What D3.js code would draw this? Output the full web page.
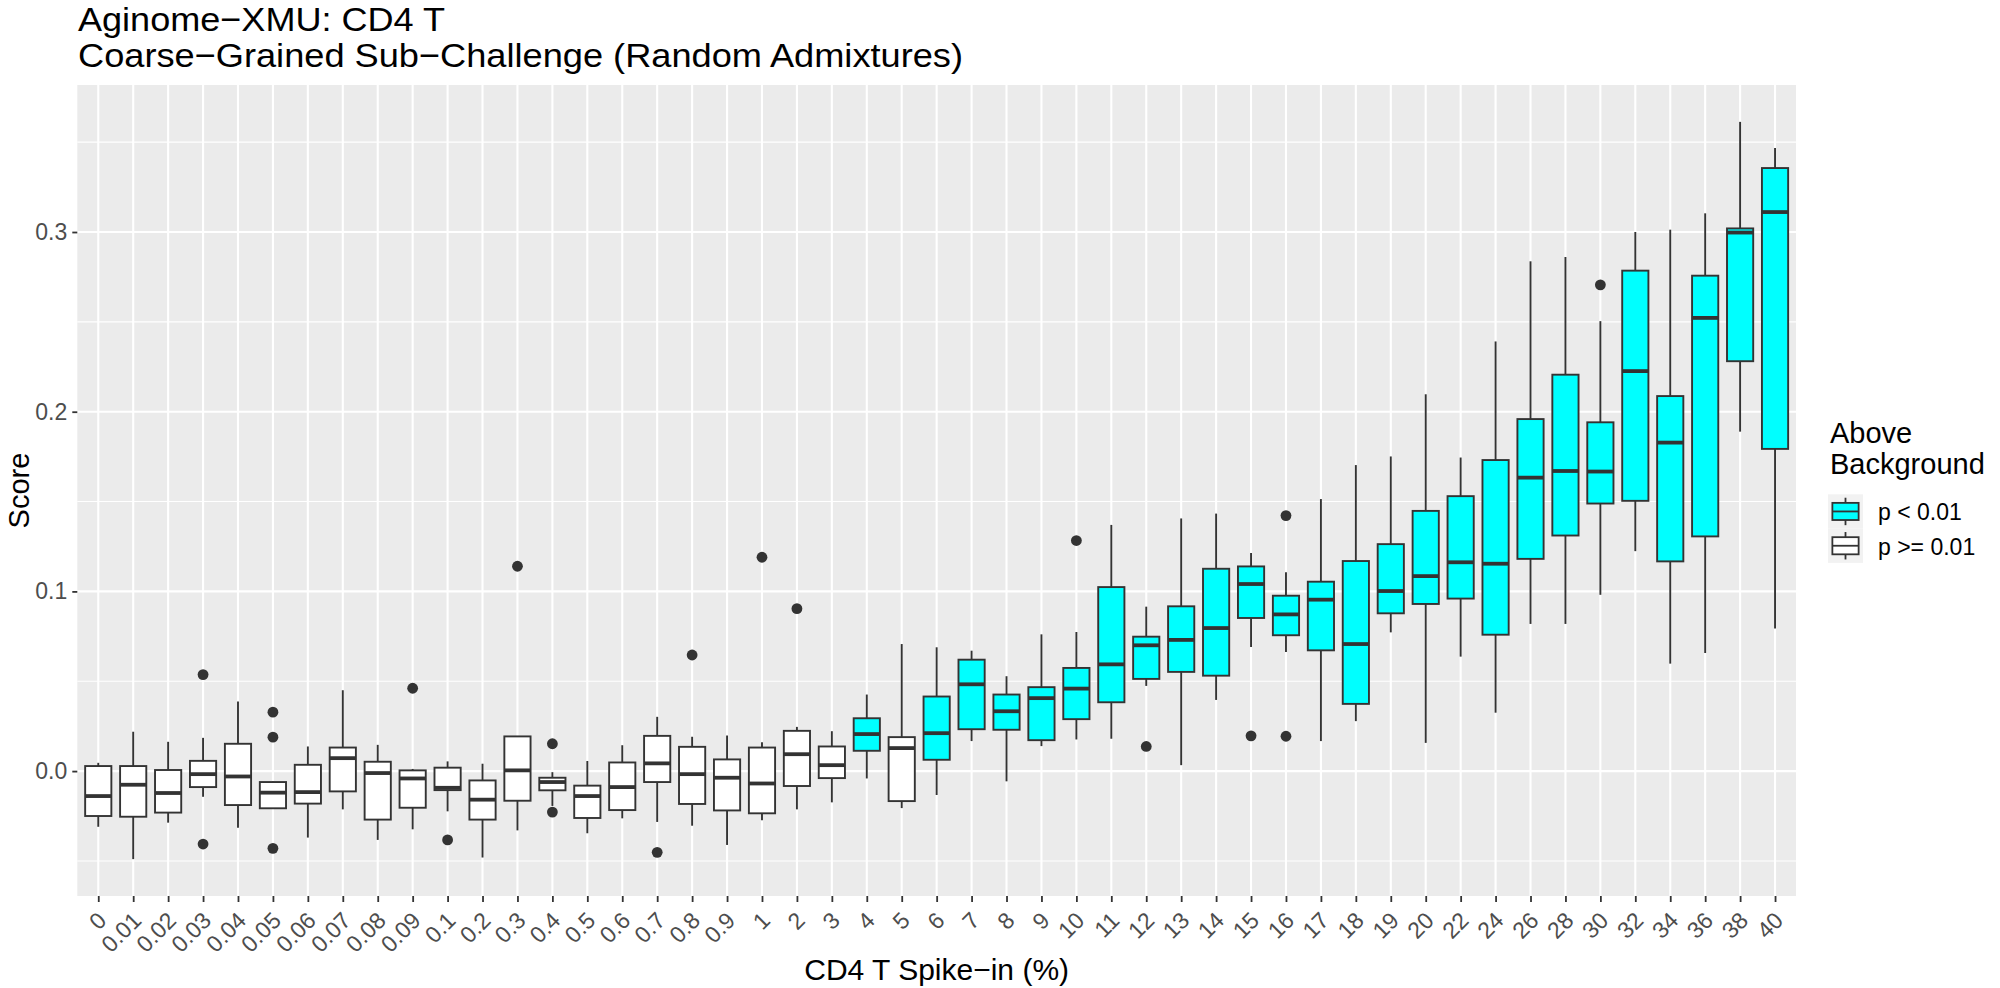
<!DOCTYPE html>
<html>
<head>
<meta charset="utf-8">
<script src="https://cdnjs.cloudflare.com/ajax/libs/d3/7.8.5/d3.min.js"></script>
<style>
  body { margin: 0; background: #fff; }
  svg text { font-family: "Liberation Sans", Arial, Helvetica, sans-serif; }
</style>
</head>
<body>
<svg id="chart" width="2000" height="988"></svg>
<script>
// spike-in levels (x categories)
var spikeIn = ["0","0.01","0.02","0.03","0.04","0.05","0.06","0.07","0.08","0.09",
  "0.1","0.2","0.3","0.4","0.5","0.6","0.7","0.8","0.9",
  "1","2","3","4","5","6","7","8","9","10","11","12","13","14","15","16","17","18","19","20",
  "22","24","26","28","30","32","34","36","38","40"];

// box stats
var whiskerLow = [-0.031,-0.049,-0.0287,-0.0143,-0.0315,-0.021,-0.037,-0.0213,-0.0383,-0.0324,
  -0.0224,-0.0481,-0.033,-0.0194,-0.0346,-0.0263,-0.0283,-0.0304,-0.0411,
  -0.0274,-0.0213,-0.0174,-0.0041,-0.0206,-0.0133,0.0167,-0.0057,0.0139,0.0176,0.018,0.0474,0.0033,0.0396,0.0691,0.0663,0.0167,0.0278,0.0772,0.0157,
  0.0637,0.0325,0.0819,0.0819,0.0981,0.1224,0.0598,0.0657,0.1889,0.0793];
var q1 = [-0.025,-0.0254,-0.0231,-0.0089,-0.0189,-0.0207,-0.0181,-0.0113,-0.027,-0.0204,
  -0.0106,-0.027,-0.0165,-0.0107,-0.0261,-0.0217,-0.0061,-0.0183,-0.0219,
  -0.0235,-0.0083,-0.0039,0.0113,-0.0167,0.0063,0.0233,0.023,0.0172,0.0289,0.0383,0.0513,0.0552,0.0531,0.0852,0.0756,0.0672,0.0374,0.0878,0.093,
  0.096,0.0759,0.1181,0.1311,0.1489,0.1504,0.1167,0.1306,0.2281,0.1793];
var median = [-0.0139,-0.0076,-0.0122,-0.0017,-0.003,-0.012,-0.0117,0.0072,-0.0011,-0.0041,
  -0.0093,-0.0159,0.0004,-0.0061,-0.0139,-0.0089,0.0043,-0.0017,-0.0037,
  -0.0069,0.0094,0.0033,0.0206,0.0128,0.0211,0.0483,0.0333,0.0406,0.0459,0.0594,0.07,0.073,0.0796,0.1041,0.0872,0.0954,0.0707,0.1002,0.1085,
  0.1162,0.1154,0.1633,0.167,0.1667,0.2226,0.1828,0.2522,0.2997,0.3111];
var q3 = [0.0028,0.0028,0.0006,0.0057,0.0152,-0.0061,0.0035,0.0131,0.0052,0.0004,
  0.0019,-0.0052,0.0193,-0.0037,-0.0081,0.0048,0.0196,0.0135,0.0065,
  0.0131,0.0224,0.0137,0.0294,0.0189,0.0415,0.062,0.0426,0.0467,0.0574,0.1024,0.0748,0.0917,0.1126,0.1139,0.0976,0.1054,0.1169,0.1263,0.1448,
  0.153,0.1731,0.1959,0.2206,0.1941,0.2785,0.2087,0.2757,0.302,0.3356];
var whiskerHigh = [0.0046,0.0219,0.0163,0.0185,0.0387,-0.0058,0.0137,0.045,0.0146,0.0012,
  0.0054,0.0041,0.0193,-0.0006,0.0056,0.0144,0.0302,0.0191,0.0198,
  0.0161,0.0246,0.0222,0.0426,0.0707,0.0689,0.067,0.0528,0.0761,0.0774,0.137,0.0915,0.1406,0.1433,0.1213,0.1107,0.1514,0.1703,0.1751,0.2097,
  0.1745,0.2391,0.2837,0.2861,0.2504,0.30,0.3013,0.3104,0.3613,0.3467];
var outliers = [[],[],[],[0.0537,-0.0406],[],[0.0328,0.0189,-0.043],[],[],[],[0.0461],
  [-0.0383],[],[0.114],[0.0152,-0.0228],[],[],[-0.0452],[0.0646],[],
  [0.119],[0.0904],[],[],[],[],[],[],[],[0.1283],[],[0.0137],[],[],[0.0196],[0.1422,0.0194],[],[],[],[],
  [],[],[],[],[0.2706],[],[],[],[],[]];
// 1 = above background (p < 0.01)
var aboveBg = [0,0,0,0,0,0,0,0,0,0,
  0,0,0,0,0,0,0,0,0,
  0,0,0,1,0,1,1,1,1,1,1,1,1,1,1,1,1,1,1,1,
  1,1,1,1,1,1,1,1,1,1];
var pGroups = ["p < 0.01", "p >= 0.01"];
var yTicks = [0, 0.1, 0.2, 0.3];

var svg = d3.select("#chart");
var pLeft = 77.3, pRight = 1796, pTop = 85, pBottom = 896;
var ink = "#333333";

var boxes = spikeIn.map(function(s, i) {
  return { cat: s, lo: whiskerLow[i], q1: q1[i], med: median[i], q3: q3[i], hi: whiskerHigh[i],
           out: outliers[i], group: aboveBg[i] ? pGroups[0] : pGroups[1] };
});

// y range like ggplot: data range + 5% each side
var allVals = [];
boxes.forEach(function(b) { allVals.push(b.lo, b.hi); b.out.forEach(function(o) { allVals.push(o); }); });
var ext = d3.extent(allVals);
var pad = (ext[1] - ext[0]) * 0.05;

var x = d3.scalePoint().domain(spikeIn).range([pLeft, pRight]).padding(0.6);
var y = d3.scaleLinear().domain([ext[0] - pad, ext[1] + pad]).range([pBottom, pTop]);
var fill = d3.scaleOrdinal().domain(pGroups).range(["#00FFFF", "#FFFFFF"]);
var bw = x.step() * 0.75;

// panel
svg.append("rect").attr("x", pLeft).attr("y", pTop).attr("width", pRight - pLeft).attr("height", pBottom - pTop)
  .attr("fill", "#EBEBEB");

var minor = [];
for (var v = -0.05; v < ext[1] + pad; v += 0.1) minor.push(+v.toFixed(2));
svg.append("g").selectAll("line").data(minor).enter().append("line")
  .attr("x1", pLeft).attr("x2", pRight).attr("y1", function(d) { return y(d); }).attr("y2", function(d) { return y(d); })
  .attr("stroke", "#fff").attr("stroke-width", 1.1);
svg.append("g").selectAll("line").data(yTicks).enter().append("line")
  .attr("x1", pLeft).attr("x2", pRight).attr("y1", function(d) { return y(d); }).attr("y2", function(d) { return y(d); })
  .attr("stroke", "#fff").attr("stroke-width", 2.1);
svg.append("g").selectAll("line").data(spikeIn).enter().append("line")
  .attr("x1", function(d) { return x(d); }).attr("x2", function(d) { return x(d); })
  .attr("y1", pTop).attr("y2", pBottom)
  .attr("stroke", "#fff").attr("stroke-width", 2.1);

// boxplots
var g = svg.append("g").selectAll("g").data(boxes).enter().append("g");
g.append("line").attr("x1", function(d) { return x(d.cat); }).attr("x2", function(d) { return x(d.cat); })
  .attr("y1", function(d) { return y(d.hi); }).attr("y2", function(d) { return y(d.q3); })
  .attr("stroke", ink).attr("stroke-width", 1.9);
g.append("line").attr("x1", function(d) { return x(d.cat); }).attr("x2", function(d) { return x(d.cat); })
  .attr("y1", function(d) { return y(d.q1); }).attr("y2", function(d) { return y(d.lo); })
  .attr("stroke", ink).attr("stroke-width", 1.9);
g.append("rect").attr("x", function(d) { return x(d.cat) - bw / 2; }).attr("width", bw)
  .attr("y", function(d) { return y(d.q3); })
  .attr("height", function(d) { return y(d.q1) - y(d.q3); })
  .attr("fill", function(d) { return fill(d.group); })
  .attr("stroke", ink).attr("stroke-width", 1.9);
g.append("line").attr("x1", function(d) { return x(d.cat) - bw / 2; }).attr("x2", function(d) { return x(d.cat) + bw / 2; })
  .attr("y1", function(d) { return y(d.med); }).attr("y2", function(d) { return y(d.med); })
  .attr("stroke", ink).attr("stroke-width", 3.8);
g.selectAll("circle").data(function(d) { return d.out.map(function(o) { return { cat: d.cat, v: o }; }); })
  .enter().append("circle")
  .attr("cx", function(d) { return x(d.cat); }).attr("cy", function(d) { return y(d.v); })
  .attr("r", 5.4).attr("fill", ink);

// axes
var yAxis = svg.append("g").attr("transform", "translate(" + pLeft + ",0)")
  .call(d3.axisLeft(y).tickValues(yTicks).tickFormat(d3.format(".1f")).tickSize(5).tickPadding(5));
var xAxis = svg.append("g").attr("transform", "translate(0," + pBottom + ")")
  .call(d3.axisBottom(x).tickSize(6));
[yAxis, xAxis].forEach(function(a) {
  a.select(".domain").remove();
  a.selectAll(".tick line").attr("stroke", ink).attr("stroke-width", 1.8);
  a.selectAll("text").attr("fill", "#4D4D4D").attr("font-size", 23)
    .attr("font-family", "Liberation Sans, Arial, sans-serif");
});
xAxis.selectAll("text").attr("text-anchor", "end").attr("x", 9).attr("y", 26).attr("dy", 0)
  .attr("transform", "rotate(-45, 9, 26)");

// titles (glyphs a bit wider than Liberation, so stretch to the measured width)
svg.append("text").attr("x", 78).attr("y", 31).attr("font-size", 34)
  .attr("textLength", 367).attr("lengthAdjust", "spacingAndGlyphs").text("Aginome\u2212XMU: CD4 T");
svg.append("text").attr("x", 78).attr("y", 67).attr("font-size", 34)
  .attr("textLength", 885).attr("lengthAdjust", "spacingAndGlyphs")
  .text("Coarse\u2212Grained Sub\u2212Challenge (Random Admixtures)");
svg.append("text").attr("x", (pLeft + pRight) / 2).attr("y", 980).attr("text-anchor", "middle")
  .attr("font-size", 30).text("CD4 T Spike\u2212in (%)");
svg.append("text").attr("transform", "translate(29," + ((pTop + pBottom) / 2) + ") rotate(-90)")
  .attr("text-anchor", "middle").attr("font-size", 29).text("Score");

// legend
var lg = svg.append("g").attr("transform", "translate(1828,0)");
lg.append("text").attr("x", 2).attr("y", 443).attr("font-size", 29).text("Above");
lg.append("text").attr("x", 2).attr("y", 474).attr("font-size", 29).text("Background");
var key = 34.3, kTop = 494.3;
var items = lg.selectAll("g.key").data(pGroups).enter().append("g").attr("class", "key")
  .attr("transform", function(d, i) { return "translate(0," + (kTop + i * key) + ")"; });
items.append("rect").attr("width", 35).attr("height", key).attr("fill", "#F2F2F2");
items.append("line").attr("x1", 17.5).attr("x2", 17.5).attr("y1", key * 0.1).attr("y2", key * 0.9)
  .attr("stroke", ink).attr("stroke-width", 1.8);
items.append("rect").attr("x", 35 * 0.125).attr("width", 35 * 0.75).attr("y", key * 0.25).attr("height", key * 0.5)
  .attr("fill", function(d) { return fill(d); }).attr("stroke", ink).attr("stroke-width", 1.8);
items.append("line").attr("x1", 35 * 0.125).attr("x2", 35 * 0.875).attr("y1", key / 2).attr("y2", key / 2)
  .attr("stroke", ink).attr("stroke-width", 1.8);
items.append("text").attr("x", 50).attr("y", key / 2 + 9).attr("font-size", 23).text(function(d) { return d; });
</script>
</body>
</html>
